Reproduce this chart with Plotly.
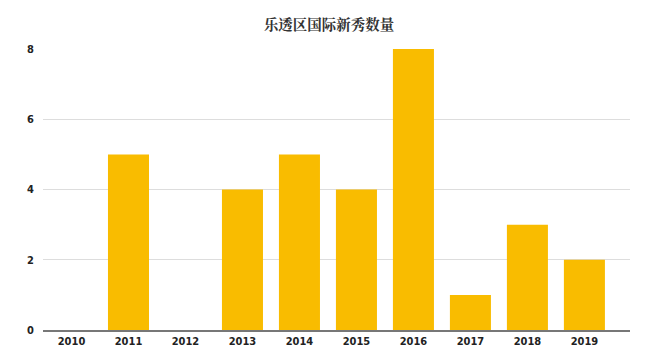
import plotly.graph_objects as go

years = ["2010", "2011", "2012", "2013", "2014", "2015", "2016", "2017", "2018", "2019"]
counts = [0, 5, 0, 4, 5, 4, 8, 1, 3, 2]
y_ticks = [0, 2, 4, 6, 8]
title_text = "乐透区国际新秀数量"

tick_font = dict(family="DejaVu Sans Condensed, Liberation Sans Narrow, Arial Narrow, sans-serif",
                 size=11, color="#222", weight="bold")

fig = go.Figure(go.Bar(x=years, y=counts, marker=dict(color="#F9BC00", line=dict(width=0))))

fig.update_layout(
    width=642, height=355,
    paper_bgcolor="white", plot_bgcolor="white",
    margin=dict(l=35, r=20, t=41, b=33),
    bargap=0.28,
    showlegend=False,
    title=dict(text=title_text, x=0.5, xanchor="center", y=0.952, yanchor="middle",
               font=dict(family="Noto Serif CJK SC, Noto Sans CJK SC", size=14.5, color="#333", weight="bold")),
)
fig.update_xaxes(type="category", range=[-0.5, 9.8], showgrid=False, showline=True,
                 linecolor="#777", linewidth=1.5, ticks="", tickfont=tick_font)
fig.update_yaxes(range=[0, 8], tickvals=y_ticks, showgrid=True, gridcolor="#dddddd", gridwidth=1,
                 zeroline=False, showline=False, ticks="", tickfont=tick_font, ticklabelstandoff=8)

fig.write_html("out.html")
